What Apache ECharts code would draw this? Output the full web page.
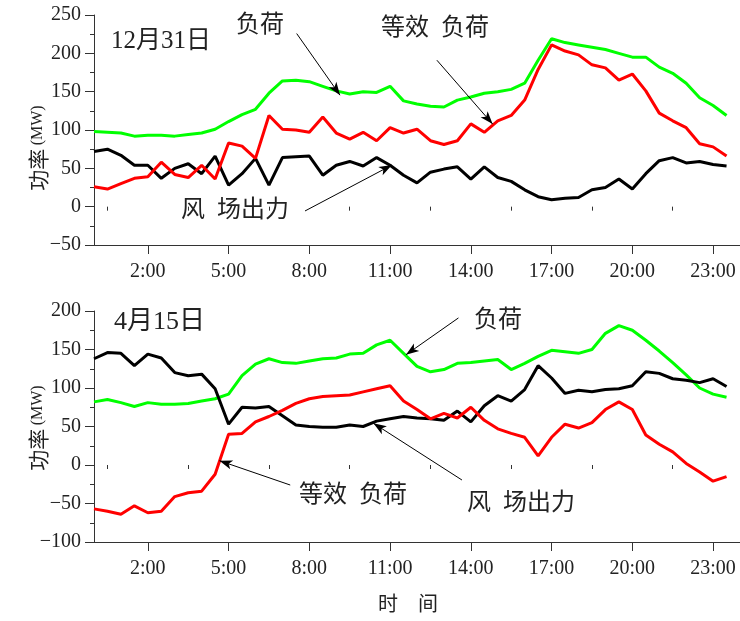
<!DOCTYPE html>
<html>
<head>
<meta charset="utf-8">
<script src="https://cdn.jsdelivr.net/npm/echarts@6/dist/echarts.min.js"></script>
<style>html,body{margin:0;padding:0;background:#fff}#c{width:740px;height:621px}</style>
</head>
<body>
<div id="c"></div>
<script>
// time of day in hours (half-hourly samples)
var hours = [0,0.5,1,1.5,2,2.5,3,3.5,4,4.5,5,5.5,6,6.5,7,7.5,8,8.5,9,9.5,10,10.5,11,11.5,
             12,12.5,13,13.5,14,14.5,15,15.5,16,16.5,17,17.5,18,18.5,19,19.5,20,20.5,21,21.5,22,22.5,23,23.5];
var majorTicks = [2,5,8,11,14,17,20,23];
var minorTicks = [0.5,3.5,6.5,9.5,12.5,15.5,18.5,21.5];

// 12月31日
var dec_load = [98,97,96,92,93,93,92,94,96,101,111,120,127,148,164,165,163,157,151,147,150,149,157,138,
                134,131,130,139,143,148,150,153,161,191,219,214,211,208,205,200,195,195,182,174,161,142,132,119];
var dec_wind = [72,75,67,54,54,37,50,56,43,66,28,43,63,28,64,65,66,41,54,59,53,64,54,41,
                31,45,49,52,36,52,38,33,22,13,9,11,12,22,25,36,23,43,60,64,57,59,55,53];
var dec_equiv = [26,23,30,37,39,58,42,38,54,36,83,79,63,119,101,100,97,117,96,88,97,86,103,96,
                 101,86,81,86,108,97,112,119,139,179,211,203,198,185,181,165,173,151,122,112,103,82,78,66];

// 4月15日
var apr_load = [82,85,81,76,81,79,79,80,83,86,92,116,131,138,133,132,135,138,139,144,145,156,162,145,
                128,121,124,132,133,135,137,124,132,141,149,147,145,150,171,181,175,162,148,133,117,100,92,88];
var apr_wind = [138,146,145,129,144,139,120,116,118,99,53,75,74,76,64,52,50,49,49,52,50,57,60,63,
                61,60,58,70,56,77,90,83,98,129,113,93,97,95,98,99,103,121,119,112,110,107,112,102];
var apr_equiv = [-57,-60,-64,-53,-62,-60,-41,-36,-34,-12,40,41,56,63,71,80,86,89,90,91,95,99,103,83,
                 72,60,67,61,75,58,47,41,36,12,36,53,48,55,72,82,72,39,27,17,2,-9,-21,-15];

// annotation arrows: [from, to] in data units
var decArrows = [[[7.53,225.8],[9.14,145.4]], [[12.74,191],[14.81,107.7]], [[7.84,-5.6],[11.07,54.3]]];
var aprArrows = [[[13.54,191],[11.59,143.2]], [[7.29,-26],[4.66,5.6]], [[13.67,-19.5],[10.38,54.3]]];

function pairs(vals){ return vals.map(function(v,i){ return [hours[i], v]; }); }
function arrows(list){
  return list.map(function(a){ return [{coord:a[0], symbol:'none'}, {coord:a[1], symbol:'arrow'}]; });
}

var SERIF = '"Liberation Serif", "Noto Sans CJK SC", serif';
var CJK = '"Noto Sans CJK SC", "Liberation Serif", sans-serif';
var TXT = '#222';
var AX = '#333';

function mainX(grid){
  return {
    type:'value', gridIndex:grid, min:0, max:24, position:'bottom',
    axisLine:{show:true, onZero:false, lineStyle:{color:AX, width:1}},
    splitLine:{show:false},
    axisTick:{show:true, customValues:majorTicks, length:9, lineStyle:{color:AX}},
    axisLabel:{show:true, customValues:majorTicks, margin:17, color:TXT, fontSize:20, fontFamily:SERIF,
               formatter:function(v){ return v + ':00'; }}
  };
}
function minorX(grid){
  return {
    type:'value', gridIndex:grid, min:0, max:24, position:'bottom',
    axisLine:{show:false}, splitLine:{show:false}, axisLabel:{show:false},
    axisTick:{show:true, customValues:minorTicks, length:4, lineStyle:{color:AX}}
  };
}
function yAx(grid, mn, mx){
  return {
    type:'value', gridIndex:grid, min:mn, max:mx, interval:50,
    axisLine:{show:true, onZero:false, lineStyle:{color:AX, width:1}},
    splitLine:{show:false},
    axisTick:{show:true, length:9, lineStyle:{color:AX}},
    minorTick:{show:true, splitNumber:2, length:4, lineStyle:{color:AX}},
    axisLabel:{margin:13, color:TXT, fontSize:20, fontFamily:SERIF,
               formatter:function(v){ return String(v).replace('-', '\u2212'); }}
  };
}
function line(name, vals, color, xi, yi, extra){
  var s = {
    name:name, type:'line', xAxisIndex:xi, yAxisIndex:yi, data:pairs(vals),
    showSymbol:false, symbol:'none', lineStyle:{color:color, width:3}, itemStyle:{color:color},
    animation:false, z:3
  };
  if (extra) {
    s.markLine = {silent:true, animation:false, symbolSize:[7,13],
      lineStyle:{color:'#000', width:1, type:'solid'}, label:{show:false}, emphasis:{disabled:true},
      data:arrows(extra)};
  }
  return s;
}
function txt(x, y, s, size, font){
  return {type:'text', x:x, y:y, z:10, silent:true,
    style:{text:s, fill:TXT, font:size + 'px ' + (font||CJK), textAlign:'left', verticalAlign:'middle'}};
}
function yName(cy){
  return {type:'text', x:38, y:cy, rotation:Math.PI/2, z:10, silent:true,
    style:{text:'{a|功率} {b|(MW)}', fill:TXT, textAlign:'center', verticalAlign:'middle',
      rich:{a:{fontSize:21, fontFamily:CJK, fill:TXT}, b:{fontSize:16, fontFamily:SERIF, fill:TXT}}}};
}

var chart = echarts.init(document.getElementById('c'), null, {renderer:'canvas'});
chart.setOption({
  backgroundColor:'#fff',
  animation:false,
  grid:[
    {left:94, top:15, width:646, height:230},
    {left:94, top:311, width:646, height:231}
  ],
  xAxis:[mainX(0), minorX(0), mainX(1), minorX(1)],
  yAxis:[yAx(0,-50,250), yAx(1,-100,200)],
  series:[
    line('负荷', dec_load, '#00ff00', 0, 0),
    line('风场出力', dec_wind, '#000000', 0, 0, decArrows),
    line('等效负荷', dec_equiv, '#ff0000', 0, 0),
    line('负荷', apr_load, '#00ff00', 2, 1),
    line('风场出力', apr_wind, '#000000', 2, 1, aprArrows),
    line('等效负荷', apr_equiv, '#ff0000', 2, 1)
  ],
  graphic:[
    txt(111, 41, '12月31日', 25, SERIF),
    txt(114, 322, '4月15日', 26, SERIF),
    txt(236, 23, '负荷', 24),
    txt(381, 26, '等效\u2002负荷', 24),
    txt(181, 208, '风\u2002场出力', 24),
    txt(474, 318, '负荷', 24),
    txt(299, 493, '等效\u2002负荷', 24),
    txt(467, 501, '风\u2002场出力', 24),
    yName(148),
    yName(428),
    {type:'text', x:408, y:603, z:10, silent:true,
     style:{text:'时\u3000间', fill:TXT, font:'20px ' + CJK, textAlign:'center', verticalAlign:'middle'}}
  ]
});
</script>
</body>
</html>
